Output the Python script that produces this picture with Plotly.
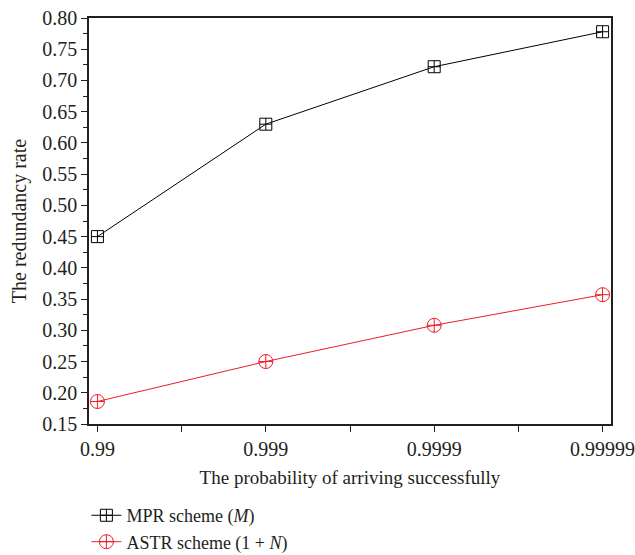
import plotly.graph_objects as go

categories = ["0.99", "0.999", "0.9999", "0.99999"]
mpr_values = [0.450, 0.630, 0.722, 0.778]
astr_values = [0.186, 0.250, 0.308, 0.357]
x_pos = list(range(len(categories)))

FONT = "Liberation Serif"

fig = go.Figure()
fig.add_trace(go.Scatter(
    x=x_pos, y=mpr_values, mode="lines+markers",
    name="MPR scheme (<i>M</i>)",
    line=dict(color="black", width=1),
    marker=dict(symbol="square-cross-open", size=12,
                color="black", line=dict(width=1)),
))
fig.add_trace(go.Scatter(
    x=x_pos, y=astr_values, mode="lines+markers",
    name="ASTR scheme (1 + <i>N</i>)",
    line=dict(color="#ee1c24", width=1),
    marker=dict(symbol="circle-cross-open", size=14,
                color="#ee1c24", line=dict(width=1)),
))

fig.update_layout(
    width=635, height=555,
    margin=dict(l=89, r=24, t=18, b=131, autoexpand=False),
    paper_bgcolor="white", plot_bgcolor="white",
    font=dict(family=FONT, size=20, color="#231f20"),
    showlegend=True,
    legend=dict(x=-0.005, y=-0.18, xanchor="left", yanchor="top",
                font=dict(family=FONT, size=18), bgcolor="rgba(0,0,0,0)",
                tracegroupgap=0, itemwidth=30),
)
fig.update_xaxes(
    range=[-0.05, 3.05],
    tickmode="array", tickvals=x_pos, ticktext=categories,
    ticks="outside", ticklen=6, tickwidth=1, tickcolor="#231f20",
    showline=True, linecolor="#231f20", linewidth=1.5, mirror=True,
    showgrid=False, zeroline=False, ticklabeloverflow="allow",
    minor=dict(tickmode="array", tickvals=[0.5, 1.5, 2.5], ticks="outside",
               ticklen=6, tickcolor="#231f20", showgrid=False),
    title=dict(text="The probability of arriving successfully", standoff=12,
               font=dict(size=19)),
    tickfont=dict(size=20),
)
fig.update_yaxes(
    range=[0.15, 0.80],
    tickmode="linear", tick0=0.15, dtick=0.05, tickformat=".2f",
    ticks="outside", ticklen=6, tickwidth=1, tickcolor="#231f20",
    showline=True, linecolor="#231f20", linewidth=1.5, mirror=True,
    showgrid=False, zeroline=False, ticklabeloverflow="allow",
    minor=dict(dtick=0.025, tick0=0.15, ticks="outside", ticklen=4,
               tickcolor="#231f20", showgrid=False),
    title=dict(text="The redundancy rate", standoff=10, font=dict(size=20)),
    tickfont=dict(size=20),
)

fig.write_html("out.html")
